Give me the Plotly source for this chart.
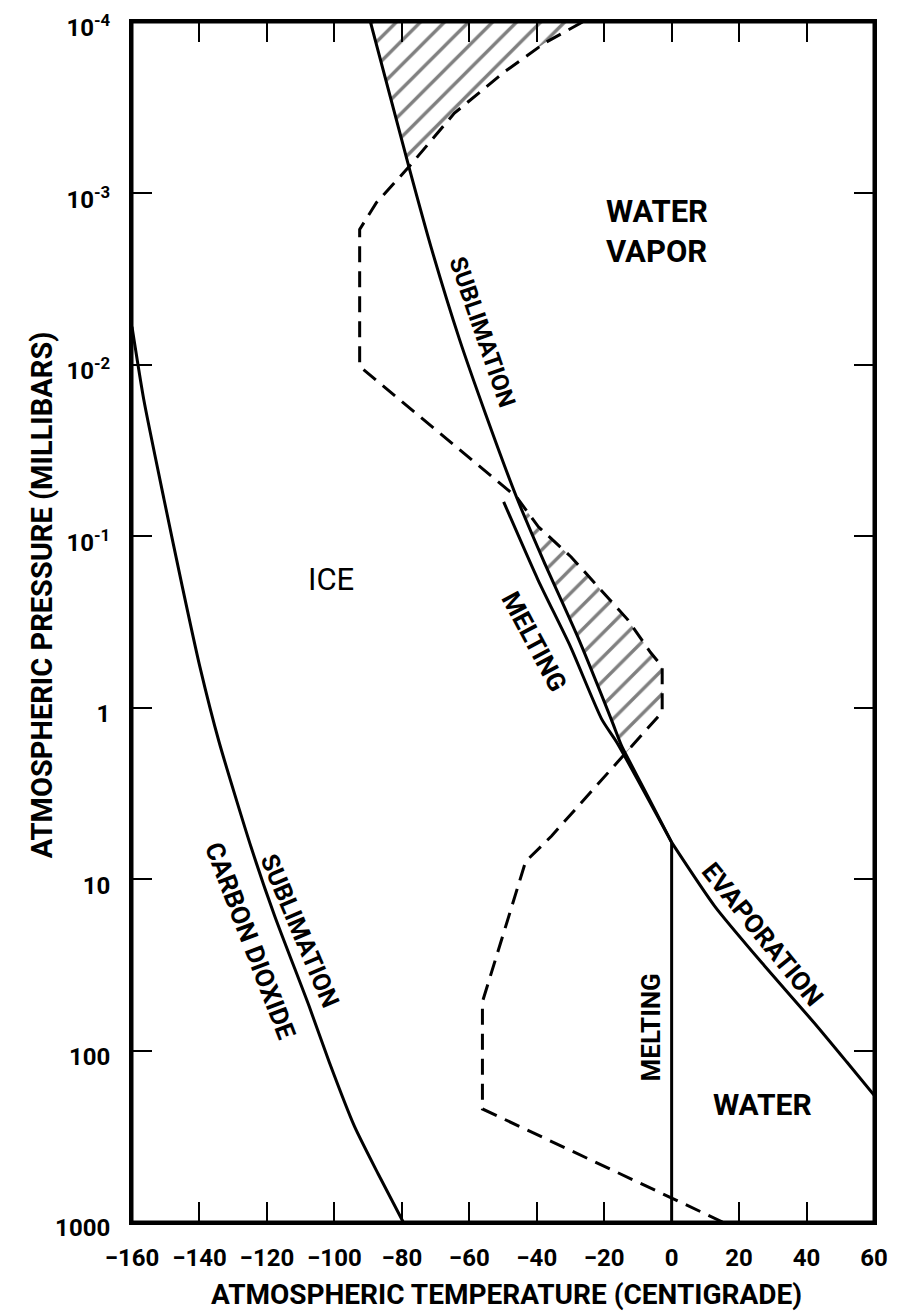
import math
import plotly.graph_objects as go

# ---------------- data (T in deg C, P in millibars) ----------------
ice_sub_T = [-89.3, -77.9, -71.2, -62.9, -55.3, -46.0, -37.9, -28.0, -17.9, -15.0, -13.7, -7.0, 0.0]
ice_sub_P = [1.0e-4, 7.0e-4, 2.1e-3, 7.1e-3, 1.9e-2, 5.9e-2, 0.14, 0.38, 1.17, 1.64, 1.85, 3.3, 6.1]

melt_upper_T = [-49.8, -39.6, -30.0, -20.7, -16.2, 0.0]
melt_upper_P = [0.063, 0.18, 0.44, 1.17, 1.6, 6.1]

evap_T = [0.0, 12.8, 27.5, 42.3, 52.0, 60.0]
evap_P = [6.1, 14.4, 32.0, 69.0, 117.0, 182.0]

melt_T = [0.0, 0.0]
melt_P = [6.1, 1000.0]

co2_T = [-160.0, -156.5, -150.5, -145.1, -139.9, -134.2, -124.7, -117.7, -107.5, -101.5, -94.1, -87.0, -79.6]
co2_P = [6.0e-3, 1.6e-2, 6.1e-2, 0.196, 0.574, 1.58, 6.5, 16.4, 55.0, 117.0, 275.0, 525.0, 1000.0]

atm_T = [-26.4, -37.5, -49.5, -64.4, -77.9, -87.5, -92.5, -92.5, -46.0, -39.5, -29.8, -20.1,
         -13.1, -6.3, -2.8, -2.8, -6.5, -13.7, -26.6, -35.6, -43.3, -56.1, -56.1, 15.1]
atm_P = [1.0e-4, 1.32e-4, 1.95e-4, 3.4e-4, 7.0e-4, 1.13e-3, 1.62e-3, 1.02e-2, 5.9e-2, 8.8e-2,
         0.132, 0.214, 0.305, 0.475, 0.575, 1.06, 1.28, 1.85, 3.56, 5.6, 7.9, 52.0, 219.0, 1000.0]

x_ticks = [-160, -140, -120, -100, -80, -60, -40, -20, 0, 20, 40, 60]
y_ticks = [1e-4, 1e-3, 1e-2, 1e-1, 1, 10, 100, 1000]
y_ticktext = ["10<sup>-4</sup>", "10<sup>-3</sup>", "10<sup>-2</sup>", "10<sup>-1</sup>",
              "1", "10", "100", "1000"]

# ---------------- hatched regions built from the curves ----------------
top_T = ice_sub_T[0:2] + atm_T[0:5][::-1]
top_P = ice_sub_P[0:2] + atm_P[0:5][::-1]
mid_T = ice_sub_T[5:11] + atm_T[8:18][::-1]
mid_P = ice_sub_P[5:11] + atm_P[8:18][::-1]

FONT = "Roboto"
fig = go.Figure()

hatch = dict(shape="/", fgcolor="black", bgcolor="white", size=17, solidity=0.2)
for xs, ys in [(top_T, top_P), (mid_T, mid_P)]:
    fig.add_trace(go.Scatter(x=xs, y=ys, mode="lines", fill="toself", line=dict(width=0, color="black"),
                             fillcolor="white", fillpattern=hatch, hoverinfo="skip", showlegend=False))

smooth = dict(color="black", width=3, shape="spline", smoothing=0.6)
for xs, ys in [(ice_sub_T, ice_sub_P), (melt_upper_T, melt_upper_P), (evap_T, evap_P),
               (co2_T, co2_P)]:
    fig.add_trace(go.Scatter(x=xs, y=ys, mode="lines", line=smooth, showlegend=False))
fig.add_trace(go.Scatter(x=melt_T, y=melt_P, mode="lines", line=dict(color="black", width=3),
                         showlegend=False))

fig.add_trace(go.Scatter(x=atm_T, y=atm_P, mode="lines",
                         line=dict(color="black", width=3, dash="16px,9px"), showlegend=False))

# ---------------- labels ----------------
def lab(text, x, p, size, angle=0, bold=True, align="center"):
    fig.add_annotation(x=x, y=math.log10(p), text=("<b>%s</b>" % text) if bold else text,
                       showarrow=False, textangle=angle, align=align,
                       font=dict(family=FONT, size=size, color="black"),
                       xanchor="center", yanchor="middle")

lab("WATER<br>VAPOR", -4.3, 10 ** -2.776, 31, align="left")
lab("ICE", -100.9, 10 ** -0.748, 31, bold=False)
lab("WATER", 26.8, 10 ** 2.317, 30)
lab("EVAPORATION", 26.9, 10 ** 1.32, 26, angle=51)
lab("SUBLIMATION", -56.1, 10 ** -2.193, 24, angle=71)
lab("MELTING", -40.9, 10 ** -0.387, 26, angle=62)
lab("SUBLIMATION", -110.1, 10 ** 1.303, 25, angle=67)
lab("CARBON DIOXIDE", -124.9, 10 ** 1.361, 26, angle=69)
lab("MELTING", -6.25, 10 ** 1.868, 26, angle=-90)

fig.add_annotation(xref="paper", yref="paper", x=0.505, y=-0.06, showarrow=False,
                   text="<b>ATMOSPHERIC TEMPERATURE (CENTIGRADE)</b>",
                   font=dict(family=FONT, size=28, color="black"), xanchor="center", yanchor="middle")
fig.add_annotation(xref="paper", yref="paper", x=-0.121, y=0.5225, showarrow=False, textangle=-90,
                   text="<b>ATMOSPHERIC PRESSURE (MILLIBARS)</b>",
                   font=dict(family=FONT, size=29, color="black"), xanchor="center", yanchor="middle")

# plot frame
fig.add_shape(type="rect", xref="paper", yref="paper", x0=0, x1=1, y0=0, y1=1,
              line=dict(color="black", width=3), layer="above")

axis_common = dict(showline=True, linewidth=3, linecolor="black", mirror="ticks",
                   ticks="inside", ticklen=20, tickwidth=2, tickcolor="black",
                   showgrid=False, zeroline=False, automargin=False, ticklabeloverflow="allow",
                   tickfont=dict(family=FONT, size=24, color="black", weight="bold"))

fig.update_xaxes(range=[-160, 60], tickvals=x_ticks,
                 ticktext=[("\u2212%d" % -v) if v < 0 else str(v) for v in x_ticks],
                 ticklabelstandoff=12, **axis_common)
fig.update_yaxes(type="log", range=[3, -4], tickvals=y_ticks, ticktext=y_ticktext,
                 ticklabelstandoff=14, ticklabelshift=-6, **axis_common)

# the page body adds an 8px offset, so the figure is sized to fit the window from there
fig.update_layout(width=894, height=1304, margin=dict(l=124, r=28, t=14, b=90),
                  plot_bgcolor="white", paper_bgcolor="white", showlegend=False)

fig.write_html("out.html")
